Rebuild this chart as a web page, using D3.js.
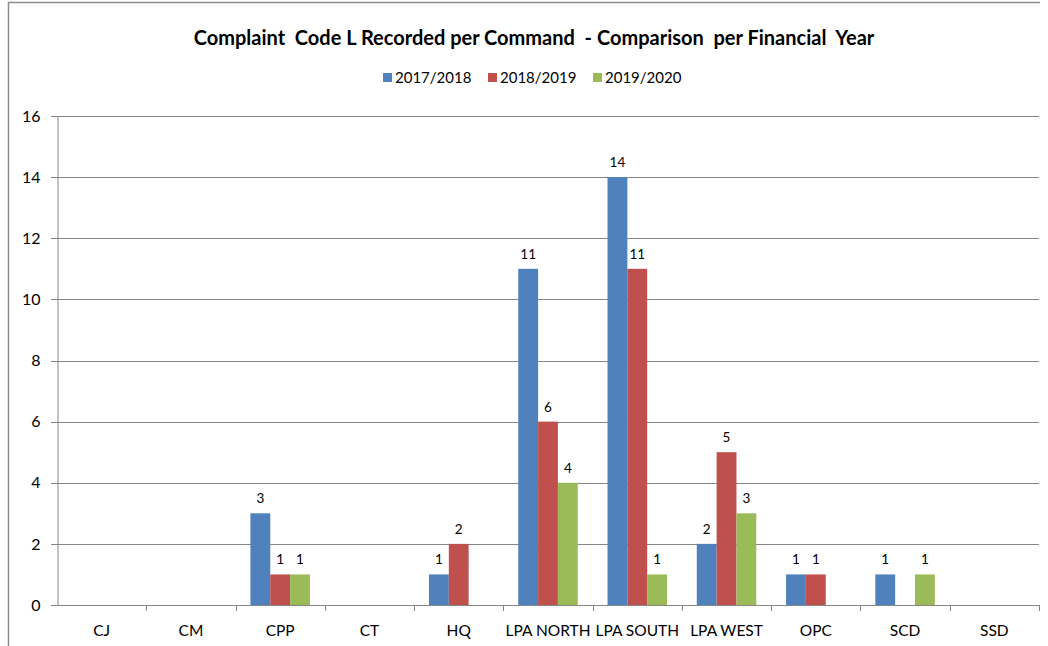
<!DOCTYPE html>
<html>
<head>
<meta charset="utf-8">
<script src="https://cdn.jsdelivr.net/npm/d3@7"></script>
<style>
  body { margin: 0; background: #fff; }
  text { font-family: Lato, "Open Sans", sans-serif; fill: #000; }
</style>
</head>
<body>
<div id="chart"></div>
<script>
(function() {
    var width = 1048,
        height = 646;

    // data
    var commands = ["CJ", "CM", "CPP", "CT", "HQ", "LPA NORTH", "LPA SOUTH", "LPA WEST", "OPC", "SCD", "SSD"];
    var years = ["2017/2018", "2018/2019", "2019/2020"];
    var fy1718 = [0, 0, 3, 0, 1, 11, 14, 2, 1, 1, 0];
    var fy1819 = [0, 0, 1, 0, 2, 6, 11, 5, 1, 0, 0];
    var fy1920 = [0, 0, 1, 0, 0, 4, 1, 3, 0, 1, 0];
    var yTicks = [0, 2, 4, 6, 8, 10, 12, 14, 16];

    var series = [fy1718, fy1819, fy1920];
    var colors = ["#4F81BD", "#C0504D", "#9BBB59"];

    var margin = { left: 57, right: 9, top: 116, bottom: 41 };

    var svg = d3.select("#chart")
        .append("svg")
        .attr("width", width)
        .attr("height", height);

    // outer chart border (left + top)
    svg.append("path")
        .attr("d", "M8.5," + height + "V2.5H1040")
        .attr("fill", "none")
        .attr("stroke", "#8c8c8c")
        .attr("stroke-width", 1.5);

    var x = d3.scaleBand()
        .domain(commands)
        .range([margin.left, width - margin.right]);

    var y = d3.scaleLinear()
        .domain([0, 16])
        .range([height - margin.bottom, margin.top]);

    var bw = x.bandwidth() / 4.5;
    var xInner = d3.scaleBand()
        .domain(years)
        .range([bw * 0.75, bw * 3.75]);

    // gridlines
    svg.append("g")
        .selectAll("line")
        .data(yTicks)
        .enter().append("line")
        .attr("x1", margin.left - 6)
        .attr("x2", width - margin.right)
        .attr("y1", function(d) { return Math.round(y(d)) + 0.5 })
        .attr("y2", function(d) { return Math.round(y(d)) + 0.5 })
        .attr("stroke", "#868686")
        .attr("stroke-width", 1);

    // y axis
    var yAxis = d3.axisLeft(y).tickValues(yTicks).tickSize(0).tickPadding(17);
    var gy = svg.append("g")
        .attr("transform", "translate(" + (margin.left + 0.5) + ",0)")
        .call(yAxis);
    gy.select(".domain").attr("stroke", "#868686");
    gy.selectAll("text").style("font-size", "16px").attr("fill", "#000");

    // x axis ticks between categories
    var gx = svg.append("g");
    gx.selectAll("line")
        .data(commands)
        .enter().append("line")
        .attr("x1", function(d) { return Math.round(x(d) + x.bandwidth()) + 0.5 })
        .attr("x2", function(d) { return Math.round(x(d) + x.bandwidth()) + 0.5 })
        .attr("y1", y(0))
        .attr("y2", y(0) + 6)
        .attr("stroke", "#868686");
    gx.selectAll("text")
        .data(commands)
        .enter().append("text")
        .attr("x", function(d) { return x(d) + x.bandwidth() / 2 })
        .attr("y", y(0) + 31)
        .attr("text-anchor", "middle")
        .style("font-size", "15.5px")
        .text(function(d) { return d });

    // bars
    var bars = svg.append("g");
    series.forEach(function(vals, si) {
        var g = bars.append("g");
        g.selectAll("rect")
            .data(vals)
            .enter().append("rect")
            .attr("x", function(d, i) { return x(commands[i]) + xInner(years[si]) })
            .attr("width", xInner.bandwidth())
            .attr("y", function(d) { return y(d) })
            .attr("height", function(d) { return y(0) - y(d) })
            .attr("fill", colors[si]);
        g.selectAll("text")
            .data(vals)
            .enter().append("text")
            .attr("x", function(d, i) { return x(commands[i]) + xInner(years[si]) + xInner.bandwidth() / 2 })
            .attr("y", function(d) { return y(d) - 10 })
            .attr("text-anchor", "middle")
            .style("font-size", "13.5px")
            .text(function(d) { if (d > 0) { return d } });
    });

    // title
    svg.append("text")
        .attr("x", 534)
        .attr("y", 45)
        .attr("text-anchor", "middle")
        .style("font-size", "20px")
        .style("font-weight", "bold")
        .style("white-space", "pre")
        .text("Complaint  Code L Recorded per Command  - Comparison  per Financial  Year");

    // legend
    var legendX = [383, 488, 593];
    var legend = svg.append("g");
    years.forEach(function(yr, i) {
        legend.append("rect")
            .attr("x", legendX[i])
            .attr("y", 73)
            .attr("width", 9)
            .attr("height", 9)
            .attr("fill", colors[i]);
        legend.append("text")
            .attr("x", legendX[i] + 12)
            .attr("y", 83)
            .style("font-size", "15px")
            .text(yr);
    });
})();
</script>
</body>
</html>
